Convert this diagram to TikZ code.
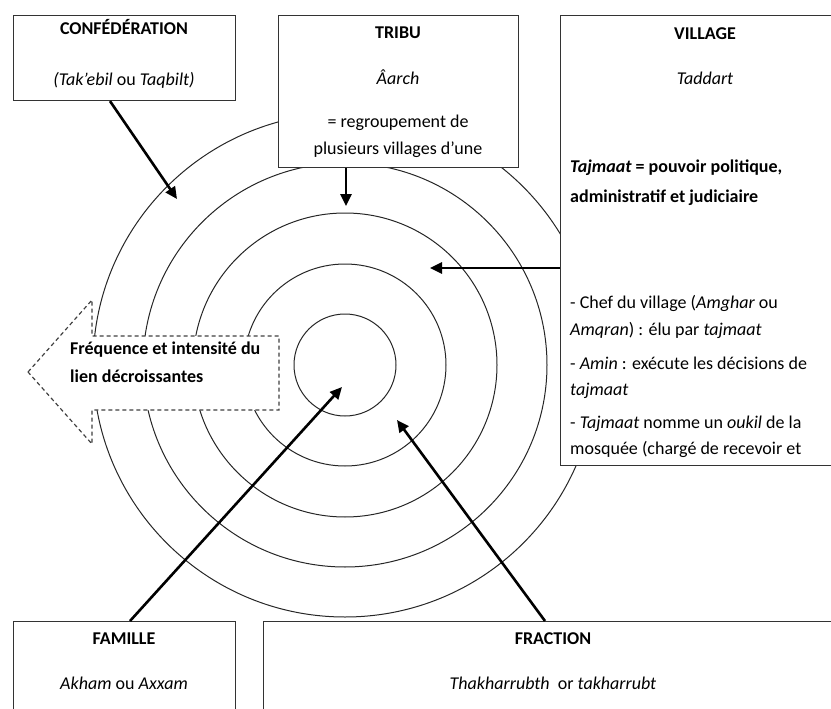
\documentclass[tikz,border=0pt]{standalone}
\usepackage{fontspec}
\setmainfont{Carlito}
\usetikzlibrary{arrows.meta}
\begin{document}
\begin{tikzpicture}[x=1pt,y=-1pt,
  box/.style={draw=black!80,line width=1.1pt,fill=white,anchor=north west,inner sep=0pt},
  txt/.style={inner sep=0pt,anchor=mid,font=\fontsize{18}{22}\selectfont},
  txtl/.style={inner sep=0pt,anchor=mid west,font=\fontsize{18}{22}\selectfont},
  ring/.style={draw=black!85,line width=1pt},
  bigarrow/.style={line width=2.6pt,-{Triangle[length=12pt,width=11pt]}},
  dashbox/.style={draw=black!75,line width=1.2pt,dash pattern=on 4pt off 3pt,fill=white}]
\useasboundingbox (0,0) rectangle (831,709);
\clip (0,0) rectangle (831,709);
% rings
\coordinate (ctr) at (345,365);
\foreach \r/\n in {252/e,202/d,152/c,101/b,51/a}{
  \draw[ring] (ctr) circle[radius=\r];
}
% boxes
\node[box,minimum width=222pt,minimum height=85pt] (conf) at (13,15) {};
\node[box,minimum width=240pt,minimum height=152pt] (tribu) at (278,15) {};
\node[box,minimum width=290pt,minimum height=450pt] (village) at (560,15) {};
\node[box,minimum width=222pt,minimum height=120pt] (famille) at (13,621) {};
\node[box,minimum width=580pt,minimum height=120pt] (fraction) at (263,621) {};
% dashed arrow
\draw[dashbox] (28,372) -- (92,300) -- (92,336) -- (279,336) -- (279,410) -- (92,410) -- (92,444) -- cycle;
% texts
\node[txt] (t1) at (124,32) {\bfseries CONFÉDÉRATION};
\node[txt] (t2) at (124,83) {\itshape (Tak'ebil \upshape ou \itshape Taqbilt)};
\node[txt] (t3) at (398,36) {\bfseries TRIBU};
\node[txt] (t4) at (398,82) {\itshape Âarch};
\node[txt] (t5) at (398,125) {= regroupement de};
\node[txt] (t6) at (398,152) {plusieurs villages d’une};
\node[txt] (t7) at (705,37) {\bfseries VILLAGE};
\node[txt] (t8) at (705,82) {\itshape Taddart};
\node[txtl] (t9) at (570,170) {\bfseries\itshape Tajmaat\upshape{} = pouvoir politique,};
\node[txtl] (t10) at (570,200) {\bfseries administratif et judiciaire};
\node[txtl] (t11) at (570,306) {- Chef du village (\textit{Amghar} ou};
\node[txtl] (t12) at (570,333) {\textit{Amqran}) : élu par \textit{tajmaat}};
\node[txtl] (t13) at (570,367) {- \textit{Amin} : exécute les décisions de};
\node[txtl] (t14) at (570,393) {\textit{tajmaat}};
\node[txtl] (t15) at (570,426) {- \textit{Tajmaat} nomme un \textit{oukil} de la};
\node[txtl] (t16) at (570,452) {mosquée (chargé de recevoir et};
\node[txt] (t17) at (124,642) {\bfseries FAMILLE};
\node[txt] (t18) at (124,687) {\textit{Akham} ou \textit{Axxam}};
\node[txt] (t19) at (553,642) {\bfseries FRACTION};
\node[txt] (t20) at (553,687) {\textit{Thakharrubth} \ or \textit{takharrubt}};
\node[txtl] (t21) at (70,352) {\bfseries Fréquence et intensité du};
\node[txtl] (t22) at (70,380) {\bfseries lien décroissantes};
% arrow tips
\coordinate (pc) at (177,199);
\coordinate (pt) at (346,206);
\coordinate (pv) at (430,268);
\coordinate (pf) at (342,387);
\coordinate (pr) at (397,420);
\draw[bigarrow] (conf.south west) ++(97,0) -- (pc);
\draw[bigarrow] (tribu.south west) ++(68,0) -- (pt);
\draw[bigarrow] (village.north west) ++(0,253) -- (pv);
\draw[bigarrow] (famille.north west) ++(117,0) -- (pf);
\draw[bigarrow] (fraction.north west) ++(282,0) -- (pr);
\end{tikzpicture}
\end{document}
